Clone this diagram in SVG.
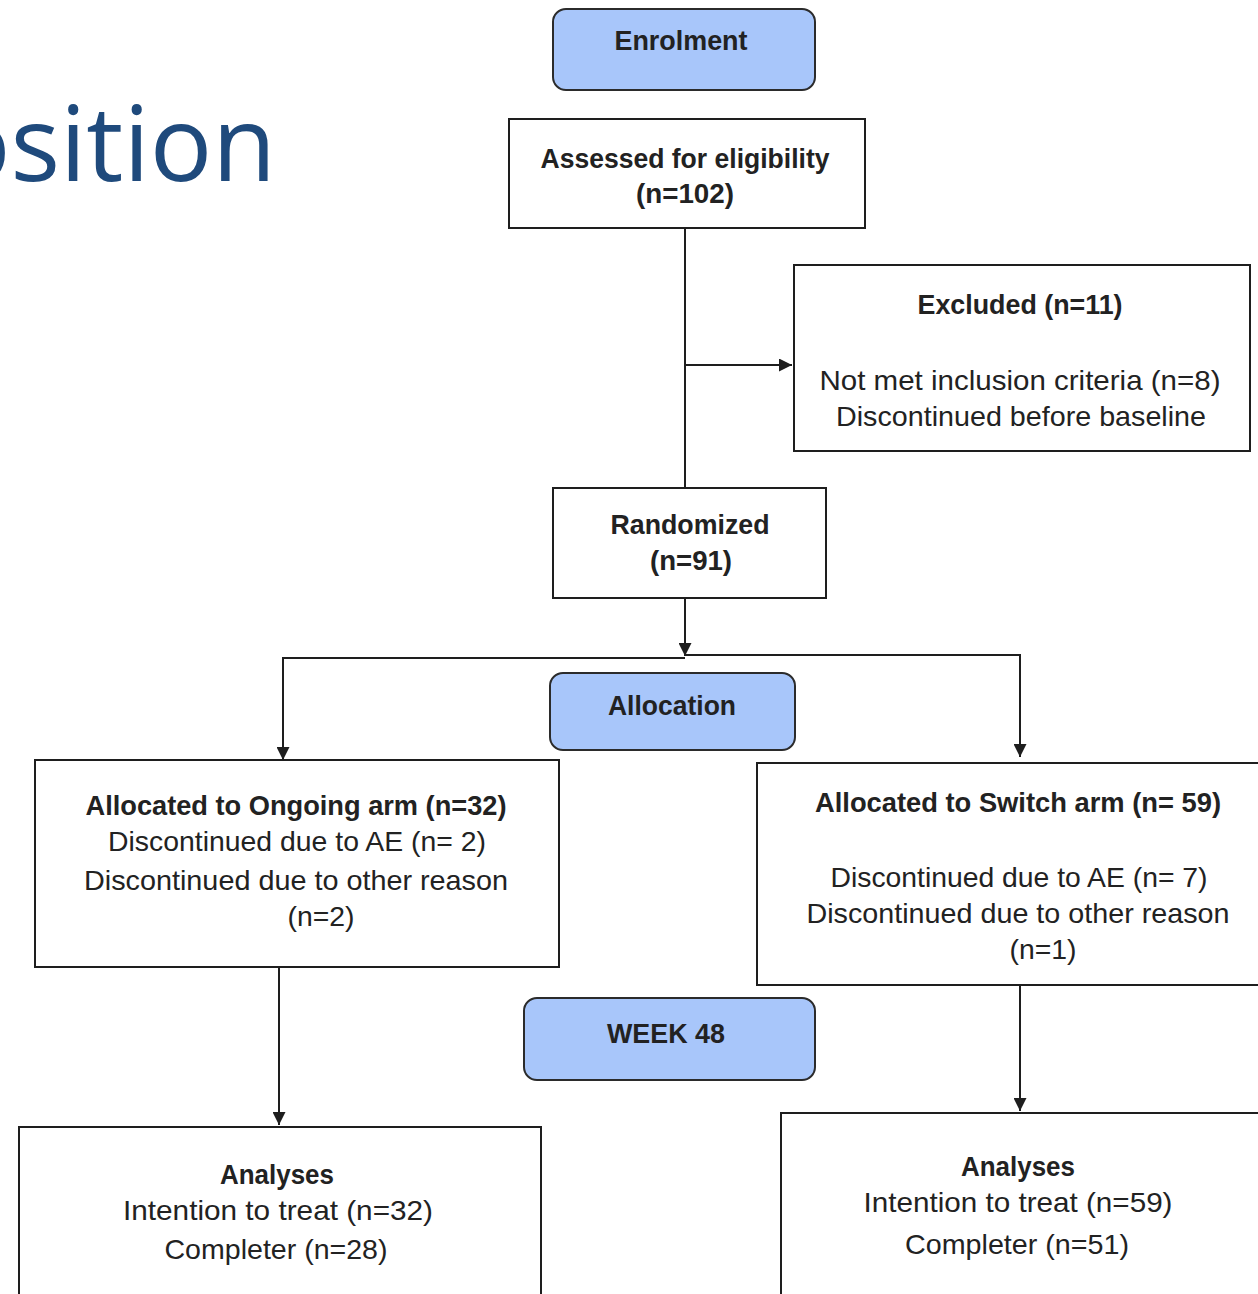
<svg xmlns="http://www.w3.org/2000/svg" width="1258" height="1294" viewBox="0 0 1258 1294">
<style>
.box{fill:#ffffff;stroke:#1e1e1e;stroke-width:2}
.phase{fill:#a8c6fa;stroke:#2b2b2b;stroke-width:2}
.t{font-family:"Liberation Sans",Arial,sans-serif;font-size:28px;fill:#222;text-anchor:middle}
.b{font-weight:bold}
.con{fill:none;stroke:#1e1e1e;stroke-width:2}
.title{font-family:"Open Sans","Noto Sans",sans-serif;font-size:104px;fill:#1f4a7c}
</style>
<defs>
<marker id="arr" viewBox="0 0 10 10" refX="10" refY="5" markerWidth="6.5" markerHeight="6.5" markerUnits="strokeWidth" orient="auto">
<path d="M0,0 L10,5 L0,10 z" fill="#1e1e1e"/>
</marker>
</defs>
<rect width="1258" height="1294" fill="#ffffff"/>
<text class="title" x="276" y="181" text-anchor="end">osition</text>

<g id="connectors">
<path class="con" d="M685,228 V488"/>
<path class="con" d="M685,365 H792" marker-end="url(#arr)"/>
<path class="con" d="M685,598 V656" marker-end="url(#arr)"/>
<path class="con" d="M685,658 H283 V760" marker-end="url(#arr)"/>
<path class="con" d="M685,655 H1020 V757" marker-end="url(#arr)"/>
<path class="con" d="M279,967 V1125" marker-end="url(#arr)"/>
<path class="con" d="M1020,985 V1111" marker-end="url(#arr)"/>
</g>

<g id="enrolment">
<rect class="phase" x="553" y="9" width="262" height="81" rx="13"/>
<text class="t b" x="681" y="50" textLength="133" lengthAdjust="spacingAndGlyphs">Enrolment</text>
</g>
<g id="assessed">
<rect class="box" x="509" y="119" width="356" height="109"/>
<text class="t b" x="685" y="168" textLength="289" lengthAdjust="spacingAndGlyphs">Assessed for eligibility</text>
<text class="t b" x="685" y="203" textLength="98" lengthAdjust="spacingAndGlyphs">(n=102)</text>
</g>
<g id="excluded">
<rect class="box" x="794" y="265" width="456" height="186"/>
<text class="t b" x="1020" y="314" textLength="205" lengthAdjust="spacingAndGlyphs">Excluded (n=11)</text>
<text class="t" x="1020" y="390" textLength="401" lengthAdjust="spacingAndGlyphs">Not met inclusion criteria (n=8)</text>
<text class="t" x="1021" y="426" textLength="370" lengthAdjust="spacingAndGlyphs">Discontinued before baseline</text>
</g>
<g id="randomized">
<rect class="box" x="553" y="488" width="273" height="110"/>
<text class="t b" x="690" y="534" textLength="159" lengthAdjust="spacingAndGlyphs">Randomized</text>
<text class="t b" x="691" y="570" textLength="82" lengthAdjust="spacingAndGlyphs">(n=91)</text>
</g>
<g id="allocation">
<rect class="phase" x="550" y="673" width="245" height="77" rx="13"/>
<text class="t b" x="672" y="715" textLength="128" lengthAdjust="spacingAndGlyphs">Allocation</text>
</g>
<g id="ongoing">
<rect class="box" x="35" y="760" width="524" height="207"/>
<text class="t b" x="296" y="815" textLength="421" lengthAdjust="spacingAndGlyphs">Allocated to Ongoing arm (n=32)</text>
<text class="t" x="297" y="851" textLength="378" lengthAdjust="spacingAndGlyphs">Discontinued due to AE (n= 2)</text>
<text class="t" x="296" y="890" textLength="424" lengthAdjust="spacingAndGlyphs">Discontinued due to other reason</text>
<text class="t" x="321" y="926" textLength="67" lengthAdjust="spacingAndGlyphs">(n=2)</text>
</g>
<g id="switch">
<rect class="box" x="757" y="763" width="510" height="222"/>
<text class="t b" x="1018" y="812" textLength="406" lengthAdjust="spacingAndGlyphs">Allocated to Switch arm (n= 59)</text>
<text class="t" x="1019" y="887" textLength="377" lengthAdjust="spacingAndGlyphs">Discontinued due to AE (n= 7)</text>
<text class="t" x="1018" y="923" textLength="423" lengthAdjust="spacingAndGlyphs">Discontinued due to other reason</text>
<text class="t" x="1043" y="959" textLength="67" lengthAdjust="spacingAndGlyphs">(n=1)</text>
</g>
<g id="week48">
<rect class="phase" x="524" y="998" width="291" height="82" rx="13"/>
<text class="t b" x="666" y="1043" textLength="118" lengthAdjust="spacingAndGlyphs">WEEK 48</text>
</g>
<g id="analyses-ongoing">
<rect class="box" x="19" y="1127" width="522" height="180"/>
<text class="t b" x="277" y="1184" textLength="114" lengthAdjust="spacingAndGlyphs">Analyses</text>
<text class="t" x="278" y="1220" textLength="310" lengthAdjust="spacingAndGlyphs">Intention to treat (n=32)</text>
<text class="t" x="276" y="1259" textLength="223" lengthAdjust="spacingAndGlyphs">Completer (n=28)</text>
</g>
<g id="analyses-switch">
<rect class="box" x="781" y="1113" width="490" height="194"/>
<text class="t b" x="1018" y="1176" textLength="114" lengthAdjust="spacingAndGlyphs">Analyses</text>
<text class="t" x="1018" y="1212" textLength="309" lengthAdjust="spacingAndGlyphs">Intention to treat (n=59)</text>
<text class="t" x="1017" y="1254" textLength="224" lengthAdjust="spacingAndGlyphs">Completer (n=51)</text>
</g>
</svg>
